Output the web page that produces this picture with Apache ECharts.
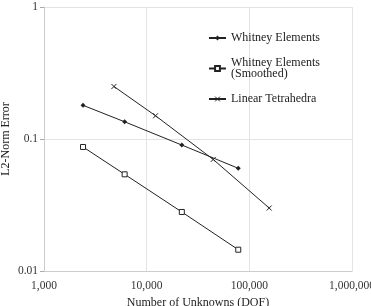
<!DOCTYPE html>
<html>
<head>
<meta charset="utf-8">
<script src="https://cdn.jsdelivr.net/npm/echarts@6/dist/echarts.min.js"></script>
<style>
  html, body { margin: 0; padding: 0; background: #fff; }
  #chart { width: 371px; height: 306px; }
</style>
</head>
<body>
<div id="chart"></div>
<script>
// data
const whitneyX = [2400, 6100, 22000, 78000];
const whitneyY = [0.18, 0.135, 0.09, 0.06];
const smoothX = [2400, 6100, 22000, 78000];
const smoothY = [0.087, 0.054, 0.028, 0.0145];
const linearX = [4800, 12200, 44500, 156000];
const linearY = [0.25, 0.15, 0.07, 0.03];

const seriesNames = ['Whitney Elements', 'Whitney Elements\n(Smoothed)', 'Linear Tetrahedra'];

function pairs(xs, ys) {
    return xs.map(function (x, i) { return [x, ys[i]]; });
}

const font = 'Liberation Serif';
const lineColor = '#222';
const crossPath = 'path://M0,0L10,10M10,0L0,10';

let option = {
    backgroundColor: '#fff',
    textStyle: { fontFamily: font },
    grid: {
        left: 44,
        right: 19,
        top: 7,
        bottom: 35,
        outerBoundsMode: 'none',
        containLabel: false
    },
    legend: {
        orient: 'vertical',
        left: 203,
        top: 27,
        itemWidth: 17,
        itemHeight: 6,
        itemGap: 13,
        textStyle: {
            fontFamily: font,
            fontSize: 12,
            color: '#222',
            lineHeight: 11
        },
        data: [
            seriesNames[0],
            seriesNames[1],
            { name: seriesNames[2], itemStyle: { color: 'none', borderColor: lineColor, borderWidth: 1 } }
        ]
    },
    xAxis: {
        type: 'log',
        logBase: 10,
        min: 1000,
        max: 1000000,
        name: 'Number of Unknowns (DOF)',
        nameLocation: 'middle',
        nameGap: 26,
        nameMoveOverlap: false,
        nameTextStyle: { fontFamily: font, fontSize: 12, color: '#222' },
        axisLine: { lineStyle: { color: '#ccc' } },
        axisTick: { show: false },
        axisLabel: {
            fontFamily: font,
            fontSize: 11.5,
            color: '#333',
            margin: 9,
            formatter: function (v) { return Math.round(v).toLocaleString('en-US'); }
        },
        splitLine: { show: true, lineStyle: { color: '#e3e3e3' } },
        minorTick: { show: false }
    },
    yAxis: {
        type: 'log',
        logBase: 10,
        min: 0.01,
        max: 1,
        name: 'L2-Norm Error',
        nameLocation: 'middle',
        nameGap: 32,
        nameRotate: 90,
        nameMoveOverlap: false,
        nameTextStyle: { fontFamily: font, fontSize: 12, color: '#222' },
        axisLine: { show: true, lineStyle: { color: '#ccc' } },
        axisTick: { show: true, length: 4, lineStyle: { color: '#aaa' } },
        axisLabel: {
            fontFamily: font,
            fontSize: 11.5,
            color: '#333',
            margin: 6,
            formatter: function (v) { return String(+v.toPrecision(3)); }
        },
        splitLine: { show: true, lineStyle: { color: '#e3e3e3' } }
    },
    series: [
        {
            name: seriesNames[0],
            type: 'line',
            data: pairs(whitneyX, whitneyY),
            symbol: 'diamond',
            symbolSize: 5,
            lineStyle: { color: lineColor, width: 1 },
            itemStyle: { color: lineColor }
        },
        {
            name: seriesNames[1],
            type: 'line',
            data: pairs(smoothX, smoothY),
            symbol: 'rect',
            symbolSize: 5,
            lineStyle: { color: lineColor, width: 1 },
            itemStyle: { color: '#fff', borderColor: lineColor, borderWidth: 1 }
        },
        {
            name: seriesNames[2],
            type: 'line',
            data: pairs(linearX, linearY),
            symbol: crossPath,
            symbolSize: 5,
            lineStyle: { color: lineColor, width: 1 },
            itemStyle: { color: 'none', borderColor: lineColor, borderWidth: 1 }
        }
    ]
};

let myChart = echarts.init(document.getElementById('chart'));
myChart.setOption(option);
</script>
</body>
</html>
